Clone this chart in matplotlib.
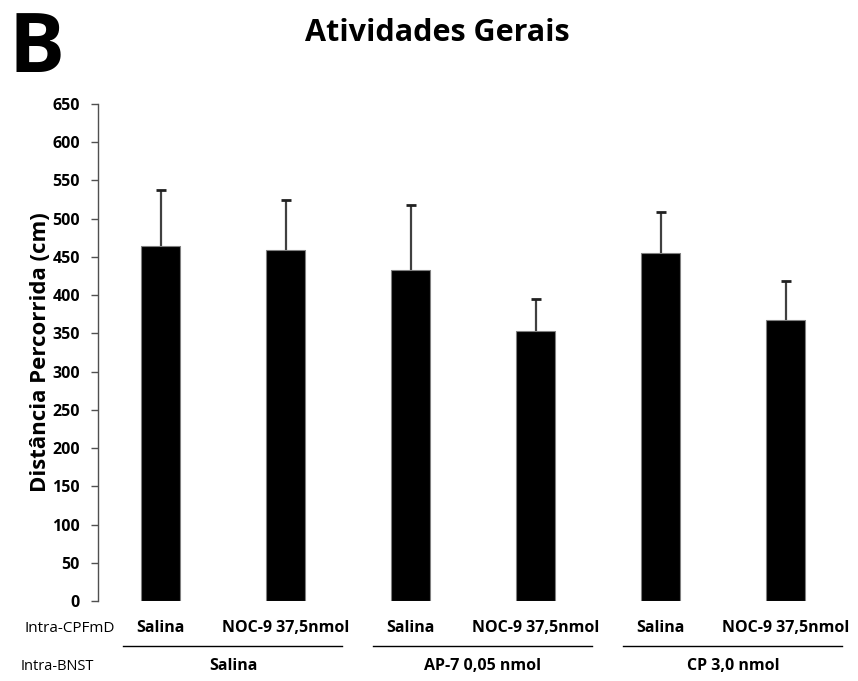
import matplotlib
matplotlib.use("Agg")
import matplotlib.pyplot as plt
from matplotlib import font_manager

names = {f.name for f in font_manager.fontManager.ttflist}
fam = None
for cand in ["Liberation Sans Narrow", "Open Sans", "Noto Sans", "DejaVu Sans"]:
    if cand in names:
        fam = cand
        break
plt.rcParams['font.family'] = [fam, 'DejaVu Sans']

# Data
cpfmd_labels = ["Salina", "NOC-9 37,5nmol", "Salina", "NOC-9 37,5nmol", "Salina", "NOC-9 37,5nmol"]
bnst_labels = ["Salina", "AP-7 0,05 nmol", "CP 3,0 nmol"]
means = [464, 459, 433, 353, 455, 367]
sem = [74, 66, 85, 42, 54, 52]
yticks = list(range(0, 651, 50))

fig = plt.figure(figsize=(8.58, 6.81), dpi=100)
ax = fig.add_axes([98/858, 1-601/681, (848-98)/858, (601-104)/681])

x = list(range(len(means)))
ax.bar(x, means, width=0.31, color='black', edgecolor='#808080', linewidth=0.8, zorder=2)
ax.errorbar(x, means, yerr=[[0]*len(sem), sem], fmt='none', ecolor='#404040',
            elinewidth=1.6, capsize=0, zorder=1)
tops = [m + s for m, s in zip(means, sem)]
ax.plot(x, tops, linestyle='none', marker='_', markersize=7, markeredgewidth=2.0,
        color='#202020', zorder=3)

ax.set_xlim(-0.5, 5.5)
ax.set_ylim(0, 650)
ax.set_yticks(yticks)
ax.set_yticklabels([str(t) for t in yticks], fontsize=11.5, fontweight='bold')
ax.set_xticks([])
for s in ['top', 'right', 'bottom']:
    ax.spines[s].set_visible(False)
ax.spines['left'].set_color('#505050')
ax.spines['left'].set_linewidth(1.0)
ax.tick_params(axis='y', direction='out', length=5, width=1.0, color='#505050', pad=8)

ax.set_ylabel("Distância Percorrida (cm)", fontsize=16, fontweight='bold', labelpad=1)

# Sub-labels
for xi, lab in zip(x, cpfmd_labels):
    ax.text(xi, -0.055, lab, transform=ax.get_xaxis_transform(), ha='center', va='center',
            fontsize=11.5, fontweight='bold')

for g, lab in enumerate(bnst_labels):
    c = 2*g + 0.5
    ax.plot([c - 0.80, c + 0.95], [-0.090, -0.090], transform=ax.get_xaxis_transform(),
            color='black', lw=1.0, clip_on=False)
    ax.text(c + 0.08, -0.131, lab, transform=ax.get_xaxis_transform(), ha='center', va='center',
            fontsize=11.5, fontweight='bold')

fig.text(70/858, 1-629/681, "Intra-CPFmD", ha='center', va='center', fontsize=11)
fig.text(57/858, 1-667/681, "Intra-BNST", ha='center', va='center', fontsize=10.5)

fig.text(437/858, 1-33/681, "Atividades Gerais", ha='center', va='center', fontsize=22, fontweight='bold')
fig.text(37/858, 1-72/681, "B", ha='center', va='baseline', fontsize=60, fontweight='bold')

fig.savefig("out.png", dpi=100)
